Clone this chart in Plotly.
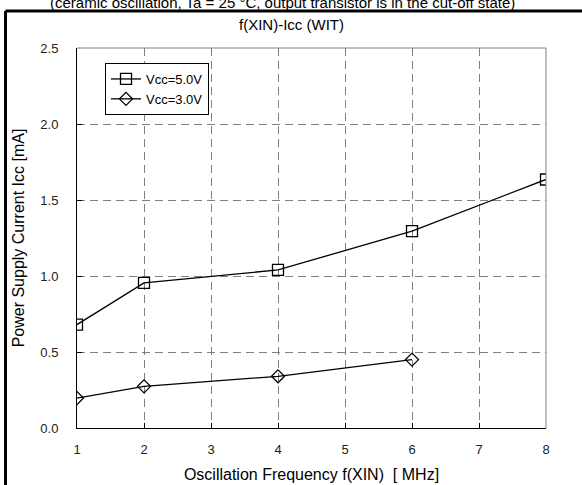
import plotly.graph_objects as go

freq_5v = [1, 2, 4, 6, 8]
icc_5v = [0.68, 0.955, 1.04, 1.295, 1.635]
freq_3v = [1, 2, 4, 6]
icc_3v = [0.197, 0.274, 0.34, 0.45]
series_names = ["Vcc=5.0V", "Vcc=3.0V"]

W, H = 582, 485
L, R, T, B = 77, 36, 48, 57
pw, ph = W - L - R, H - T - B

def px(x):
    return (x - L) / pw

def py(y):
    return (H - B - y) / ph

fig = go.Figure()
fig.add_trace(go.Scatter(x=freq_5v, y=icc_5v, name=series_names[0], mode="lines+markers",
                         line=dict(color="black", width=1.3),
                         marker=dict(symbol="square-open", size=11, color="black", line=dict(width=1.3))))
fig.add_trace(go.Scatter(x=freq_3v, y=icc_3v, name=series_names[1], mode="lines+markers",
                         line=dict(color="black", width=1.3),
                         marker=dict(symbol="diamond-open", size=10, color="black", line=dict(width=1.3))))

font = "Liberation Sans, Arial, sans-serif"
fig.update_layout(
    width=W, height=H,
    margin=dict(l=L, r=R, t=T, b=B, autoexpand=False),
    paper_bgcolor="white", plot_bgcolor="white",
    font=dict(family=font, color="black"),
    showlegend=True,
    legend=dict(x=px(105), y=py(63), xanchor="left", yanchor="top",
                bordercolor="black", borderwidth=1, bgcolor="white",
                font=dict(size=13, family=font), tracegroupgap=0, itemwidth=30),
    xaxis=dict(range=[1, 8], dtick=1, tick0=1, showgrid=True, gridcolor="#808080",
               griddash="8px,5px", gridwidth=1, showline=True, linecolor="black", linewidth=1,
               ticks="inside", ticklen=5, tickcolor="black", zeroline=False, automargin=False,
               tickfont=dict(size=13, color="#222"), ticklabelstandoff=9,
               title=dict(text="Oscillation Frequency f(XIN)  [ MHz]", font=dict(size=16), standoff=13)),
    yaxis=dict(range=[0, 2.5], dtick=0.5, tickformat=".1f", showgrid=True, gridcolor="#808080",
               griddash="8px,5px", gridwidth=1, showline=True, linecolor="black", linewidth=1,
               ticks="inside", ticklen=5, tickcolor="black", zeroline=False, automargin=False,
               tickfont=dict(size=13, color="#222"), ticklabelstandoff=15,
               title=dict(text="Power Supply Current Icc [mA]", font=dict(size=16), standoff=11)),
)

# top/right plot frame (gray)
fig.add_shape(type="line", xref="paper", yref="paper", x0=0, x1=1, y0=1, y1=1,
              line=dict(color="#808080", width=1))
fig.add_shape(type="line", xref="paper", yref="paper", x0=1, x1=1, y0=0, y1=1,
              line=dict(color="#808080", width=1))
# outer thick frame (clipped at bottom/right)
fig.add_shape(type="line", xref="paper", yref="paper", x0=px(5.5), x1=px(590), y0=py(11), y1=py(11),
              line=dict(color="black", width=3))
fig.add_shape(type="line", xref="paper", yref="paper", x0=px(5.5), x1=px(5.5), y0=py(11), y1=py(495),
              line=dict(color="black", width=3))

fig.add_annotation(text="(ceramic oscillation, Ta = 25 °C, output transistor is in the cut-off state)",
                   xref="paper", yref="paper", x=px(282), y=py(2), xanchor="center", yanchor="middle",
                   showarrow=False, font=dict(size=15, family=font))
fig.add_annotation(text="f(XIN)-Icc (WIT)", xref="paper", yref="paper", x=px(291), y=py(24),
                   xanchor="center", yanchor="middle", showarrow=False, font=dict(size=15, family=font))

fig.write_html("out.html")
